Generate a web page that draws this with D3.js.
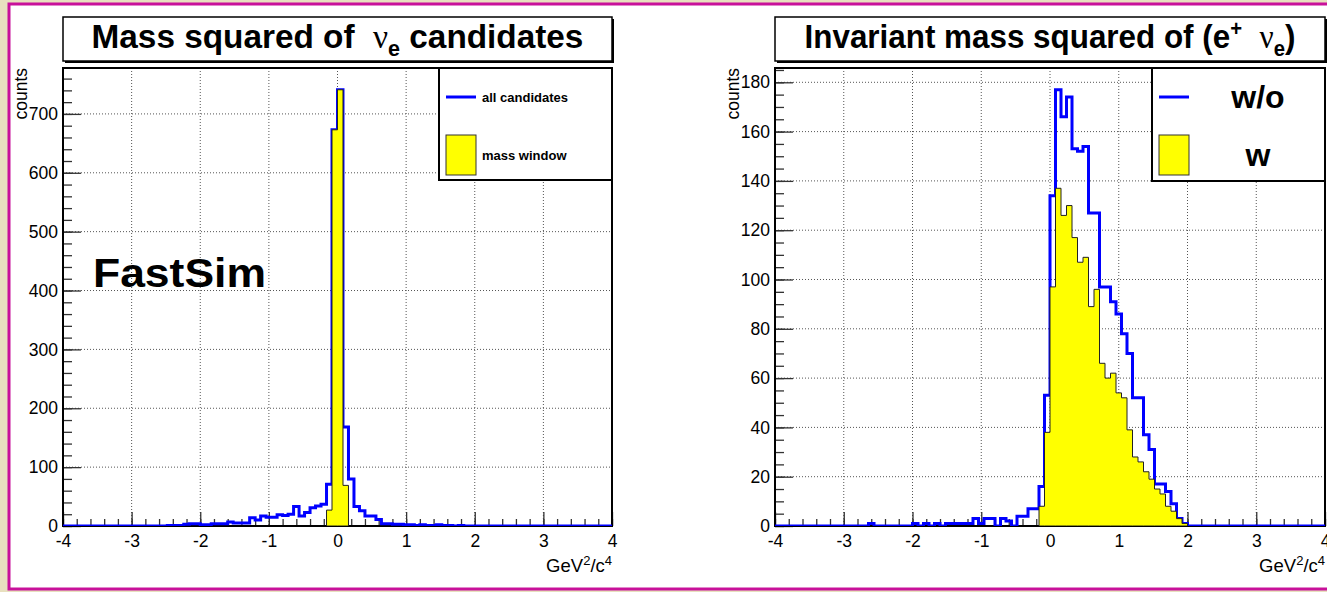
<!DOCTYPE html>
<html>
<head>
<meta charset="utf-8">
<script src="https://cdn.jsdelivr.net/npm/d3@7"></script>
<style>
body { margin: 0; background: #e8e0bf; }
svg { display: block; font-family: "Liberation Sans", Arial, sans-serif; }
</style>
</head>
<body>
<svg id="chart" width="1327" height="592"></svg>
<script>
// histogram binning (ROOT TH1: 100 bins from -4 to 4)
var xMin = -4, xMax = 4, nBins = 100;

// left pad: mass squared of nu_e candidates
var nuAll = [
  0, 0, 0, 0, 0, 0, 0, 0, 0, 0,
  0, 0, 0, 0, 0, 0, 0, 0, 0, 1,
  1, 1, 3, 4, 4, 2, 2, 4, 4, 4,
  7, 5, 5, 5, 14, 10, 17, 15, 15, 19,
  18, 20, 33, 17, 23, 31, 34, 37, 71, 673,
  741, 168, 80, 33, 26, 17, 17, 11, 4, 4,
  3, 3, 2, 2, 1, 2, 1, 1, 2, 1,
  1, 0, 1, 0, 0, 0, 0, 0, 0, 0,
  0, 0, 0, 0, 0, 0, 0, 0, 0, 0,
  0, 0, 0, 0, 0, 0, 0, 0, 0, 0
];
var nuWindow = [
  0, 0, 0, 0, 0, 0, 0, 0, 0, 0,
  0, 0, 0, 0, 0, 0, 0, 0, 0, 0,
  0, 0, 0, 0, 0, 0, 0, 0, 0, 0,
  0, 0, 0, 0, 0, 0, 0, 0, 0, 0,
  0, 0, 0, 0, 0, 0, 0, 0, 27, 673,
  741, 69, 0, 0, 0, 0, 0, 0, 0, 0,
  0, 0, 0, 0, 0, 0, 0, 0, 0, 0,
  0, 0, 0, 0, 0, 0, 0, 0, 0, 0,
  0, 0, 0, 0, 0, 0, 0, 0, 0, 0,
  0, 0, 0, 0, 0, 0, 0, 0, 0, 0
];

// right pad: invariant mass squared of (e+ nu_e)
var enuWithout = [
  0, 0, 0, 0, 0, 0, 0, 0, 0, 0,
  0, 0, 0, 0, 0, 0, 0, 1, 0, 0,
  0, 0, 0, 0, 0, 1, 0, 1, 0, 1,
  0, 1, 1, 1, 1, 1, 3, 1, 3, 3,
  0, 3, 2, 0, 4, 4, 7, 7, 16, 53,
  134, 177, 166, 174, 153, 152, 154, 127, 127, 97,
  97, 91, 86, 78, 70, 52, 52, 37, 31, 17,
  17, 14, 9, 3, 1, 0, 0, 0, 0, 0,
  0, 0, 0, 0, 0, 0, 0, 0, 0, 0,
  0, 0, 0, 0, 0, 0, 0, 0, 0, 0
];
var enuWith = [
  0, 0, 0, 0, 0, 0, 0, 0, 0, 0,
  0, 0, 0, 0, 0, 0, 0, 0, 0, 0,
  0, 0, 0, 0, 0, 0, 0, 0, 0, 0,
  0, 0, 0, 0, 0, 0, 0, 0, 0, 0,
  0, 0, 0, 0, 0, 0, 0, 0, 8, 38,
  97, 137, 126, 130, 117, 107, 109, 89, 96, 66,
  60, 62, 54, 52, 39, 28, 26, 22, 19, 15,
  13, 8, 6, 3, 1, 0, 0, 0, 0, 0,
  0, 0, 0, 0, 0, 0, 0, 0, 0, 0,
  0, 0, 0, 0, 0, 0, 0, 0, 0, 0
];

var xTicks = [-4, -3, -2, -1, 0, 1, 2, 3, 4];
var leftYTicks = [0, 100, 200, 300, 400, 500, 600, 700];
var rightYTicks = [0, 20, 40, 60, 80, 100, 120, 140, 160, 180];

var svg = d3.select("#chart");

// slide frame
svg.append("rect")
    .attr("x", 9).attr("y", 4)
    .attr("width", 1340).attr("height", 585)
    .attr("fill", "#fff")
    .attr("stroke", "#c8119a")
    .attr("stroke-width", 3);

var binW = (xMax - xMin) / nBins;
var edges = d3.range(nBins + 1).map(function(i) { return xMin + i * binW; });

// squeeze a text element horizontally so it fills the given width
function fitText(sel, cx, w) {
    var bw = sel.node().getBBox().width;
    sel.attr("transform", "translate(" + cx + ",0) scale(" + (w / bw) + ",1) translate(" + (-cx) + ",0)");
}

// ROOT prints negative labels with a plain hyphen
function plain(d) { return String(d); }

function drawPanel(p) {
    var x = d3.scaleLinear().domain([xMin, xMax]).range([p.left, p.right]);
    var y = d3.scaleLinear().domain([0, p.yMax]).range([p.bottom, p.top]);
    var g = svg.append("g");

    // frame fill
    g.append("rect")
        .attr("x", p.left).attr("y", p.top)
        .attr("width", p.right - p.left).attr("height", p.bottom - p.top)
        .attr("fill", "#fff");

    // dotted grid at major ticks
    g.selectAll(".gx").data(xTicks.slice(1, -1)).enter().append("line")
        .attr("x1", function(d) { return x(d); }).attr("x2", function(d) { return x(d); })
        .attr("y1", p.top).attr("y2", p.bottom)
        .attr("stroke", "#555").attr("stroke-width", 1).attr("stroke-dasharray", "1,2");
    g.selectAll(".gy").data(p.yTicks.slice(1)).enter().append("line")
        .attr("x1", p.left).attr("x2", p.right)
        .attr("y1", function(d) { return y(d); }).attr("y2", function(d) { return y(d); })
        .attr("stroke", "#555").attr("stroke-width", 1).attr("stroke-dasharray", "1,2");

    // minor and major ticks, drawn inside the frame
    var xMinor = d3.range(xMin, xMax + 1e-9, 0.2);
    var yMinor = d3.range(0, p.yMax, p.yMinorStep);

    g.append("g")
        .attr("transform", "translate(0," + p.bottom + ")")
        .call(d3.axisBottom(x).tickValues(xMinor).tickSize(-7).tickFormat(""))
        .call(function(a) { a.select(".domain").remove(); });
    g.append("g")
        .attr("transform", "translate(" + p.left + ",0)")
        .call(d3.axisLeft(y).tickValues(yMinor).tickSize(-9).tickFormat(""))
        .call(function(a) { a.select(".domain").remove(); });

    var xAxis = g.append("g")
        .attr("transform", "translate(0," + p.bottom + ")")
        .call(d3.axisBottom(x).tickValues(xTicks).tickSize(-14).tickPadding(9).tickFormat(plain));
    xAxis.select(".domain").remove();
    xAxis.selectAll("text").attr("font-size", 17.5).attr("fill", "#000")
        .attr("font-family", "Liberation Sans, Arial, sans-serif");

    var yAxis = g.append("g")
        .attr("transform", "translate(" + p.left + ",0)")
        .call(d3.axisLeft(y).tickValues(p.yTicks).tickSize(-18).tickPadding(5).tickFormat(plain));
    yAxis.select(".domain").remove();
    yAxis.selectAll("text").attr("font-size", 17.5).attr("fill", "#000")
        .attr("font-family", "Liberation Sans, Arial, sans-serif");
    g.selectAll(".tick line").attr("stroke", "#333").attr("stroke-width", 1.3);

    // frame
    g.append("rect")
        .attr("x", p.left).attr("y", p.top)
        .attr("width", p.right - p.left).attr("height", p.bottom - p.top)
        .attr("fill", "none").attr("stroke", "#000").attr("stroke-width", 2);

    // histograms, clipped to the frame
    var clipId = "clip" + p.id;
    svg.append("clipPath").attr("id", clipId).append("rect")
        .attr("x", p.left).attr("y", p.top)
        .attr("width", p.right - p.left).attr("height", p.bottom - p.top);
    var h = g.append("g").attr("clip-path", "url(#" + clipId + ")");

    var allPts = edges.map(function(e, i) { return [e, p.all[Math.min(i, nBins - 1)]]; });
    var line = d3.line().curve(d3.curveStepAfter)
        .x(function(d) { return x(d[0]); })
        .y(function(d) { return y(d[1]); });
    h.append("path").datum(allPts)
        .attr("d", line)
        .attr("fill", "none").attr("stroke", "#0000ff").attr("stroke-width", 3);

    var first = p.win.findIndex(function(v) { return v > 0; });
    var last = nBins - 1 - p.win.slice().reverse().findIndex(function(v) { return v > 0; });
    var winPts = d3.range(first, last + 2).map(function(i) { return [edges[i], p.win[Math.min(i, last)]]; });
    var area = d3.area().curve(d3.curveStepAfter)
        .x(function(d) { return x(d[0]); })
        .y0(y(0))
        .y1(function(d) { return y(d[1]); });
    h.append("path").datum(winPts)
        .attr("d", area)
        .attr("fill", "#ffff00").attr("stroke", "#222").attr("stroke-width", 1);

    // title box with shadow
    g.append("rect")
        .attr("x", p.left + 2).attr("y", 19)
        .attr("width", p.right - p.left).attr("height", 44)
        .attr("fill", "#000");
    g.append("rect")
        .attr("x", p.left).attr("y", 17)
        .attr("width", p.right - p.left).attr("height", 44)
        .attr("fill", "#fff").attr("stroke", "#000").attr("stroke-width", 1.5);
    var cx = (p.left + p.right) / 2;
    var t = g.append("text")
        .attr("x", cx).attr("y", 48)
        .attr("text-anchor", "middle")
        .attr("font-size", 34).attr("font-weight", "bold");
    p.title.forEach(function(part) {
        var s = t.append("tspan").text(part.text);
        if (part.greek) s.attr("font-family", "Liberation Serif, serif").attr("font-weight", "normal");
        if (part.sub) s.attr("font-size", 22).attr("dy", 8);
        if (part.sup) s.attr("font-size", 22).attr("dy", -12);
        if (part.back) s.attr("dy", part.back);
    });
    fitText(t, cx, p.titleW);

    // y axis title
    g.append("text")
        .attr("transform", "translate(" + p.yTitleX + "," + p.top + ") rotate(-90)")
        .attr("text-anchor", "end")
        .attr("font-size", 17.5)
        .text("counts");

    // x axis title
    var xt = g.append("text")
        .attr("x", p.right).attr("y", 572)
        .attr("text-anchor", "end")
        .attr("font-size", 18.5);
    xt.append("tspan").text("GeV");
    xt.append("tspan").text("2").attr("font-size", 13).attr("dy", -7);
    xt.append("tspan").text("/c").attr("dy", 7);
    xt.append("tspan").text("4").attr("font-size", 13).attr("dy", -7);

    // legend
    var lg = g.append("g");
    lg.append("rect")
        .attr("x", p.legX).attr("y", p.top)
        .attr("width", p.right - p.legX).attr("height", p.legH)
        .attr("fill", "#fff").attr("stroke", "#000").attr("stroke-width", 2);
    lg.append("line")
        .attr("x1", p.legX + 7).attr("x2", p.legX + 37)
        .attr("y1", p.top + 29).attr("y2", p.top + 29)
        .attr("stroke", "#0000ff").attr("stroke-width", 3);
    lg.append("rect")
        .attr("x", p.legX + 7).attr("y", p.top + 67)
        .attr("width", 30).attr("height", 40)
        .attr("fill", "#ffff00").attr("stroke", "#333").attr("stroke-width", 1);
    p.legend.forEach(function(l, i) {
        lg.append("text")
            .attr("x", l.x).attr("y", p.top + (i === 0 ? 29 : 87))
            .attr("dy", "0.35em")
            .attr("text-anchor", l.anchor)
            .attr("font-size", l.size).attr("font-weight", "bold")
            .text(l.text);
    });
}

drawPanel({
    id: "L", left: 63, right: 612, top: 68, bottom: 526, yMax: 778,
    yTicks: leftYTicks, yMinorStep: 20,
    all: nuAll, win: nuWindow,
    title: [{text: "Mass squared of\u00a0\u00a0"}, {text: "\u03bd", greek: true}, {text: "e", sub: true},
            {text: " candidates", back: -8}],
    titleW: 492, yTitleX: 27,
    legX: 439, legH: 112,
    legend: [{text: "all candidates", x: 482, anchor: "start", size: 13},
             {text: "mass window", x: 482, anchor: "start", size: 13}]
});

drawPanel({
    id: "R", left: 775, right: 1325, top: 68, bottom: 526, yMax: 185.8,
    yTicks: rightYTicks, yMinorStep: 5,
    all: enuWithout, win: enuWith,
    title: [{text: "Invariant mass squared of (e"}, {text: "+", sup: true}, {text: "\u00a0\u00a0", back: 12},
            {text: "\u03bd", greek: true}, {text: "e", sub: true}, {text: ")", back: -8}],
    titleW: 491, yTitleX: 739,
    legX: 1152, legH: 113,
    legend: [{text: "w/o", x: 1258, anchor: "middle", size: 32},
             {text: "w", x: 1258, anchor: "middle", size: 32}]
});

// FastSim label
var fs = svg.append("text")
    .attr("x", 93).attr("y", 287)
    .attr("font-size", 40).attr("font-weight", "bold")
    .text("FastSim");
fitText(fs, 93, 173);
</script>
</body>
</html>
